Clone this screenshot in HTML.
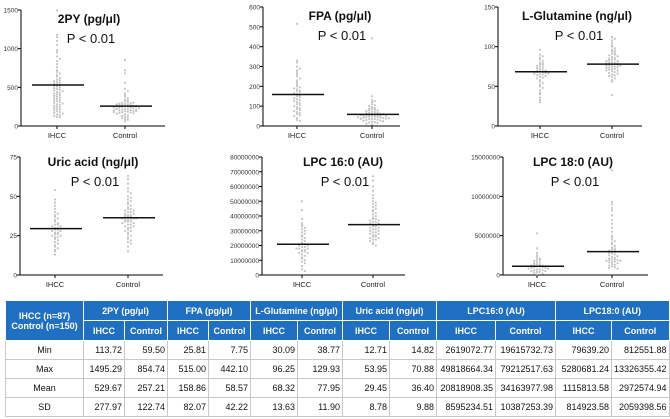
<!DOCTYPE html>
<html><head><meta charset="utf-8">
<style>
html,body{margin:0;padding:0;background:#fff;width:670px;height:419px;overflow:hidden;font-family:"Liberation Sans",Arial,sans-serif;}
#charts{position:absolute;left:0;top:0;}
#tbl{position:absolute;left:5px;top:300px;border-collapse:collapse;table-layout:fixed;font-size:9px;}
#tbl td{padding:0 2px;height:18px;border:1px solid #c8c8c8;text-align:right;color:#111;}
#tbl td.lab{text-align:center;}
#tbl .h td{background:#1f6fc2;color:#fff;font-weight:bold;text-align:center;border:1px solid #fff;height:19px;}
</style></head><body>
<svg id="charts" width="670" height="300" xmlns="http://www.w3.org/2000/svg"></svg>
<table id="tbl">
<colgroup><col style="width:78px"><col style="width:41px"><col style="width:43px"><col style="width:41px"><col style="width:42px"><col style="width:47px"><col style="width:45px"><col style="width:47px"><col style="width:47px"><col style="width:59px"><col style="width:60px"><col style="width:56px"><col style="width:57px"></colgroup>
<tr class="h"><td rowspan="2">IHCC (n=87)<br>Control (n=150)</td><td colspan="2">2PY (pg/μl)</td><td colspan="2">FPA (pg/μl)</td><td colspan="2">L-Glutamine (ng/μl)</td><td colspan="2">Uric acid (ng/μl)</td><td colspan="2">LPC16:0 (AU)</td><td colspan="2">LPC18:0 (AU)</td></tr>
<tr class="h"><td>IHCC</td><td>Control</td><td>IHCC</td><td>Control</td><td>IHCC</td><td>Control</td><td>IHCC</td><td>Control</td><td>IHCC</td><td>Control</td><td>IHCC</td><td>Control</td></tr>
<tr><td class="lab">Min</td><td>113.72</td><td>59.50</td><td>25.81</td><td>7.75</td><td>30.09</td><td>38.77</td><td>12.71</td><td>14.82</td><td>2619072.77</td><td>19615732.73</td><td>79639.20</td><td>812551.88</td></tr>
<tr><td class="lab">Max</td><td>1495.29</td><td>854.74</td><td>515.00</td><td>442.10</td><td>96.25</td><td>129.93</td><td>53.95</td><td>70.88</td><td>49818664.34</td><td>79212517.63</td><td>5280681.24</td><td>13326355.42</td></tr>
<tr><td class="lab">Mean</td><td>529.67</td><td>257.21</td><td>158.86</td><td>58.57</td><td>68.32</td><td>77.95</td><td>29.45</td><td>36.40</td><td>20818908.35</td><td>34163977.98</td><td>1115813.58</td><td>2972574.94</td></tr>
<tr><td class="lab">SD</td><td>277.97</td><td>122.74</td><td>82.07</td><td>42.22</td><td>13.63</td><td>11.90</td><td>8.78</td><td>9.88</td><td>8595234.51</td><td>10387253.39</td><td>814923.58</td><td>2059398.56</td></tr>
</table>
<script>
const categories = ["IHCC","Control"];
const py2Ihcc = [1495,1180,1150,1100,1050,980,950,900,870,840,800,760,720,700,680,660,640,620,600,590,580,570,560,550,540,530,520,510,500,490,480,470,460,450,440,430,420,410,400,390,380,370,360,350,340,330,320,310,300,290,280,270,260,250,240,230,220,210,200,190,180,170,160,150,140,130,120,114];
const py2Control = [855,720,680,560,480,450,420,400,380,360,340,330,320,310,300,295,290,285,280,275,270,265,260,255,250,245,240,235,230,225,220,215,210,205,200,195,190,185,180,175,170,165,160,150,140,130,120,110,100,90,80,60,300,280,260,250,240,230,220,210,200,190,180];
const py2Means = [529.67,257.21];
const fpaIhcc = [515,330,320,300,290,280,270,260,250,240,230,220,210,200,195,190,185,180,175,170,165,160,155,150,145,140,135,130,125,120,115,110,105,100,95,90,85,80,75,70,65,60,55,50,40,30,26];
const fpaControl = [442,150,130,125,120,110,105,100,95,90,88,85,82,80,78,75,72,70,68,66,64,62,60,58,56,55,54,52,50,49,48,46,45,44,42,41,40,38,37,36,35,34,32,30,28,26,24,22,20,18,15,12,8,60,55,50,45,40,35];
const fpaMeans = [158.86,58.57];
const gluIhcc = [96,90,88,86,84,82,80,79,78,77,76,75,74,73,72,71,70,70,69,68,68,67,66,66,65,65,64,63,62,61,60,58,56,54,52,50,48,45,42,40,36,33,30];
const gluControl = [130,112,110,108,105,102,100,98,96,95,94,92,91,90,89,88,87,86,85,84,84,83,82,82,81,80,80,79,79,78,78,77,77,76,76,75,75,74,74,73,72,72,71,70,70,69,68,67,66,65,64,63,62,60,58,56,39];
const gluMeans = [68.32,77.95];
const uricIhcc = [54,48,46,44,42,40,39,38,37,36,35,34,33,32,32,31,31,30,30,29,29,28,28,27,27,26,26,25,25,24,24,23,22,21,20,19,18,17,16,15,13];
const uricControl = [63,61,58,55,53,52,50,49,48,47,46,45,44,43,42,42,41,41,40,40,39,39,38,38,38,37,37,37,36,36,36,35,35,35,34,34,34,33,33,32,32,31,31,30,30,29,28,28,27,26,25,24,23,22,21,20,18,15];
const uricMeans = [29.45,36.40];
const lpc16Ihcc = [50e6,44e6,38e6,35e6,34e6,33e6,32e6,31e6,30e6,29e6,28e6,27e6,26e6,25e6,24e6,23e6,22e6,21e6,21e6,20e6,20e6,19e6,19e6,18e6,18e6,18e6,17e6,17e6,16e6,16e6,15e6,15e6,14e6,13e6,12e6,11e6,10e6,9e6,8e6,6e6,4e6,2.6e6];
const lpc16Control = [67e6,64e6,60e6,57e6,54e6,52e6,50e6,49e6,48e6,47e6,46e6,45e6,44e6,43e6,42e6,41e6,40e6,39e6,38e6,38e6,37e6,37e6,36e6,36e6,35e6,35e6,34e6,34e6,33e6,33e6,32e6,32e6,31e6,31e6,30e6,30e6,29e6,29e6,28e6,28e6,27e6,27e6,26e6,26e6,25e6,25e6,24e6,24e6,23e6,22e6,21e6,20e6];
const lpc16Means = [20818908,34163978];
const lpc18Ihcc = [5.3e6,3.4e6,2.8e6,2.5e6,2.3e6,2.1e6,2.0e6,1.9e6,1.8e6,1.7e6,1.6e6,1.5e6,1.4e6,1.3e6,1.3e6,1.2e6,1.2e6,1.1e6,1.1e6,1.0e6,1.0e6,0.9e6,0.9e6,0.8e6,0.8e6,0.7e6,0.7e6,0.6e6,0.6e6,0.5e6,0.5e6,0.4e6,0.4e6,0.3e6,0.2e6,0.1e6];
const lpc18Control = [13.3e6,9.3e6,9.0e6,8.5e6,8.2e6,7.6e6,7.0e6,6.5e6,6.0e6,5.5e6,5.0e6,4.8e6,4.5e6,4.3e6,4.1e6,3.9e6,3.7e6,3.5e6,3.4e6,3.3e6,3.2e6,3.1e6,3.0e6,2.9e6,2.8e6,2.7e6,2.6e6,2.5e6,2.4e6,2.3e6,2.2e6,2.1e6,2.0e6,2.0e6,1.9e6,1.9e6,1.8e6,1.8e6,1.7e6,1.7e6,1.6e6,1.5e6,1.4e6,1.3e6,1.2e6,1.1e6,1.0e6,0.9e6,0.8e6];
const lpc18Means = [1115814,2972575];
const py2Ticks = [0,500,1000,1500];
const fpaTicks = [0,100,200,300,400,500,600];
const gluTicks = [0,50,100,150];
const uricTicks = [0,25,50,75];
const lpc16Ticks = [0,10000000,20000000,30000000,40000000,50000000,60000000,70000000,80000000];
const lpc18Ticks = [0,5000000,10000000,15000000];

const panels = [
 {name:"2py",title:"2PY (pg/μl)",ax:21,top:10,bot:126,xEnd:165,cx:[57,125],tx:89,ty:10,ticks:py2Ticks,groups:[py2Ihcc,py2Control],means:py2Means},
 {name:"fpa",title:"FPA (pg/μl)",ax:263,top:7,bot:126,xEnd:400,cx:[297,372],tx:340,ty:7,ticks:fpaTicks,groups:[fpaIhcc,fpaControl],means:fpaMeans},
 {name:"glutamine",title:"L-Glutamine (ng/μl)",ax:498,top:7,bot:126,xEnd:642,cx:[540,612],tx:577,ty:7,ticks:gluTicks,groups:[gluIhcc,gluControl],means:gluMeans},
 {name:"uric-acid",title:"Uric acid (ng/μl)",ax:20,top:157,bot:275,xEnd:163,cx:[55,128],tx:93,ty:153,ticks:uricTicks,groups:[uricIhcc,uricControl],means:uricMeans},
 {name:"lpc16",title:"LPC 16:0 (AU)",ax:262,top:157,bot:275,xEnd:405,cx:[302,373],tx:343,ty:153,ticks:lpc16Ticks,groups:[lpc16Ihcc,lpc16Control],means:lpc16Means},
 {name:"lpc18",title:"LPC 18:0 (AU)",ax:503,top:157,bot:275,xEnd:648,cx:[537,612],tx:573,ty:153,ticks:lpc18Ticks,groups:[lpc18Ihcc,lpc18Control],means:lpc18Means}
];
const NS="http://www.w3.org/2000/svg";
const svg=document.getElementById('charts');
function mk(tag,attrs,parent){const e=document.createElementNS(NS,tag);for(const k in attrs)e.setAttribute(k,attrs[k]);(parent||svg).appendChild(e);return e;}
panels.forEach(p=>{
  const g=mk('g',{});
  
  
  const max=p.ticks[p.ticks.length-1];
  const y=v=>p.bot-(v/max)*(p.bot-p.top);
  const ya=mk('line',{x1:p.ax,y1:p.top,x2:p.ax,y2:p.bot,stroke:'#000','stroke-width':1},g);
  
  
  const xa=mk('line',{x1:p.ax,y1:p.bot,x2:p.xEnd,y2:p.bot,stroke:'#000','stroke-width':1},g);
  
  
  p.ticks.forEach(t=>{
    mk('line',{x1:p.ax-3,y1:y(t),x2:p.ax,y2:y(t),stroke:'#000'},g);
    const tl=mk('text',{x:p.ax-3,y:y(t)+2.5,'font-size':6.5,'text-anchor':'end',fill:'#333'},g);
    tl.textContent=t;
    
    
  });
  categories.forEach((c,i)=>{
    mk('line',{x1:p.cx[i],y1:p.bot,x2:p.cx[i],y2:p.bot+3,stroke:'#000'},g);
    const cl=mk('text',{x:p.cx[i],y:p.bot+12,'font-size':7.5,'text-anchor':'middle',fill:'#222'},g);
    cl.textContent=c;
    
    
    const bins={};
    p.groups[i].forEach(v=>{
      const yy=y(v);const b=Math.round(yy/2.5);
      const n=bins[b]||0;bins[b]=n+1;
      const off=n===0?0:(n%2?1:-1)*Math.ceil(n/2)*2.8;
      const d=mk('circle',{cx:p.cx[i]+off,cy:yy,r:1.1,fill:'#c4c4c4'},g);
      
      
    });
    const ml=mk('line',{x1:p.cx[i]-25,y1:y(p.means[i]),x2:p.cx[i]+27,y2:y(p.means[i]),stroke:'#111','stroke-width':1.5},g);
    
    
  });
  const tt=mk('text',{x:p.tx,y:p.ty+13,'font-size':12,'font-weight':'bold','text-anchor':'middle',fill:'#111'},g);
  tt.textContent=p.title;
  
  
  const pv=mk('text',{x:p.tx+2,y:p.ty+33,'font-size':13,'text-anchor':'middle',fill:'#111'},g);
  pv.textContent="P < 0.01";
  
  
});
</script>
</body></html>
